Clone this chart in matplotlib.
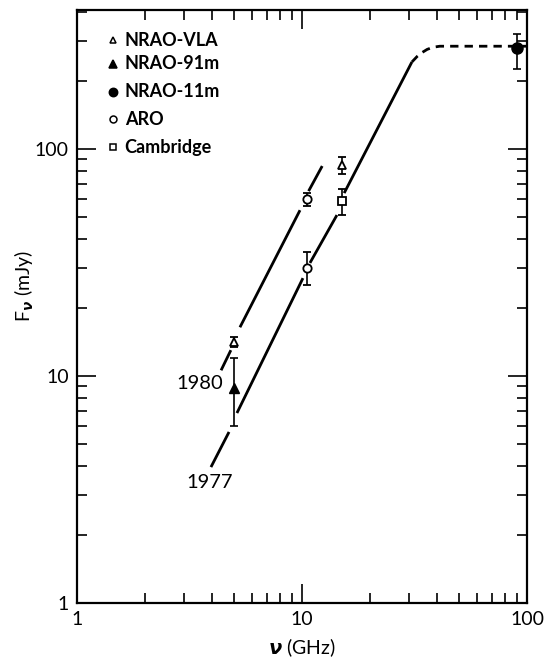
import matplotlib
matplotlib.use("Agg")
import matplotlib.pyplot as plt

plt.rcParams['font.family'] = ['Lato', 'DejaVu Sans']
plt.rcParams['mathtext.fontset'] = 'dejavusans'

# measured flux densities (GHz, mJy) with error limits
vla_nu = [5.0, 15.0]
vla_f = [14.1, 85.0]
vla_lo = [13.4, 78.0]
vla_hi = [14.8, 92.0]

nrao91_nu = [5.0]
nrao91_f = [8.9]
nrao91_lo = [6.0]
nrao91_hi = [12.0]

nrao11_nu = [90.0]
nrao11_f = [279.0]
nrao11_lo = [225.0]
nrao11_hi = [321.0]

aro_nu = [10.5, 10.5]
aro_f = [60.3, 29.9]
aro_lo = [56.0, 25.2]
aro_hi = [64.0, 35.2]

cam_nu = [15.0]
cam_f = [59.0]
cam_lo = [51.0]
cam_hi = [67.0]

# drawn spectra, read as segment endpoints (GHz, mJy)
fit1980_segs = [
    [(4.37, 10.6), (4.83, 13.0)],
    [(5.30, 16.4), (9.80, 53.8)],
    [(10.7, 65.3), (12.3, 84.2)],
]
fit1977_segs = [
    [(3.94, 3.97), (4.74, 5.67)],
    [(5.14, 6.87), (10.1, 27.0)],
    [(10.85, 31.5), (14.3, 51.2)],
    [(15.4, 64.0), (30.8, 242.0)],
]
turn_nu = [30.8, 32.5, 34.1, 36.0, 38.2, 41.0, 50.0, 100.0]
turn_f = [242.0, 256.0, 266.0, 275.0, 281.0, 284.0, 284.0, 284.0]

fig = plt.figure(figsize=(5.51, 6.60), dpi=100)
ax = fig.add_axes([0.1397, 0.0864, 0.8167, 0.8984])
ax.set_xscale('log')
ax.set_yscale('log')
ax.set_xlim(1, 100)
ax.set_ylim(1, 410)

lw = 2.0
for seg in fit1980_segs + fit1977_segs:
    xs = [p[0] for p in seg]
    ys = [p[1] for p in seg]
    ax.plot(xs, ys, '-', color='black', lw=lw, solid_capstyle='butt')
ax.plot(turn_nu, turn_f, color='black', lw=lw, dashes=(3.0, 2.2))

def yerr(f, lo, hi):
    return [[a - b for a, b in zip(f, lo)], [b - a for a, b in zip(f, hi)]]

ekw = dict(ecolor='black', elinewidth=1.2, capsize=3, capthick=1.2, linestyle='none')
ax.errorbar(vla_nu, vla_f, yerr=yerr(vla_f, vla_lo, vla_hi), marker='^', ms=6,
            mfc='white', mec='black', mew=1.3, **ekw)
ax.errorbar(nrao91_nu, nrao91_f, yerr=yerr(nrao91_f, nrao91_lo, nrao91_hi), marker='^', ms=6.5,
            mfc='black', mec='black', **ekw)
ax.errorbar(nrao11_nu, nrao11_f, yerr=yerr(nrao11_f, nrao11_lo, nrao11_hi), marker='o', ms=8,
            mfc='black', mec='black', **ekw)
ax.errorbar(aro_nu, aro_f, yerr=yerr(aro_f, aro_lo, aro_hi), marker='o', ms=6,
            mfc='white', mec='black', mew=1.3, **ekw)
ax.errorbar(cam_nu, cam_f, yerr=yerr(cam_f, cam_lo, cam_hi), marker='s', ms=5.5,
            mfc='white', mec='black', mew=1.3, **ekw)

# legend drawn by hand in axes fraction
leg_labels = ['NRAO-VLA', 'NRAO-91m', 'NRAO-11m', 'ARO', 'Cambridge']
leg_marks = [('^', 'white', 5), ('^', 'black', 5.5), ('o', 'black', 6), ('o', 'white', 5), ('s', 'white', 4.5)]
leg_y = [0.949, 0.909, 0.862, 0.816, 0.769]
for lab, (m, fc, s), yy in zip(leg_labels, leg_marks, leg_y):
    ax.plot([0.080], [yy], marker=m, ms=s, mfc=fc, mec='black', mew=1.1,
            transform=ax.transAxes, linestyle='none')
    ax.text(0.106, yy, lab, transform=ax.transAxes, fontsize=13,
            fontweight='bold', va='center', ha='left')

ax.text(4.45, 9.3, '1980', fontsize=14.5, ha='right', va='center')
ax.text(3.9, 3.38, '1977', fontsize=14.5, ha='center', va='center')

for s in ax.spines.values():
    s.set_linewidth(1.6)
ax.tick_params(which='both', direction='in', top=True, right=True, width=1.2,
               labelsize=14, pad=6)
ax.tick_params(which='major', length=14)
ax.tick_params(which='minor', length=7)
ax.set_xticks([1, 10, 100])
ax.set_xticklabels(['1', '10', '100'])
ax.set_yticks([1, 10, 100])
ax.set_yticklabels(['1', '10', '100'])

ax.set_xlabel(r'$\boldsymbol{\nu}$ (GHz)', fontsize=14, labelpad=6)
ax.set_ylabel(r'F$_{\boldsymbol{\nu}}$ (mJy)', fontsize=14, labelpad=6)
ax.yaxis.set_label_coords(-0.09, 0.535)

fig.savefig('out.png', dpi=100)
